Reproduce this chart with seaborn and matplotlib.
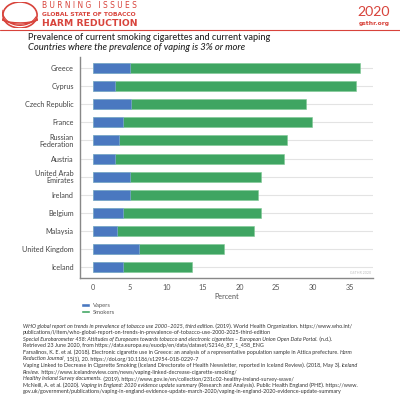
import matplotlib
matplotlib.use("Agg")
import matplotlib.pyplot as plt
import seaborn as sns
import pandas as pd
import numpy as np
from matplotlib.patches import Patch, Ellipse, Arc

countries = ["Greece", "Cyprus", "Czech Republic", "France", "Russian\nFederation", "Austria",
             "United Arab\nEmirates", "Ireland", "Belgium", "Malaysia", "United Kingdom", "Iceland"]
vapers = [5.0, 3.0, 5.2, 4.05, 3.55, 3.0, 5.0, 5.0, 4.05, 3.25, 6.25, 4.05]
smokers = [31.4, 32.9, 23.85, 25.85, 22.85, 23.0, 17.9, 17.5, 18.85, 18.65, 11.65, 9.5]
x_ticks = [0, 5, 10, 15, 20, 25, 30, 35]

BLUE = "#4a78c0"
GREEN = "#3fa562"
RED = "#d8433b"
FONT = "Lato"

sns.set_theme(style="white")
plt.rcParams["font.family"] = [FONT, "DejaVu Sans"]

df = pd.DataFrame({"country": countries, "vapers": vapers, "smokers": smokers})
df["total"] = df["vapers"] + df["smokers"]

fig = plt.figure(figsize=(4, 4), dpi=100)
ax = fig.add_axes([0.2, 0.305, 0.7325, 0.5525])

for i in range(len(countries)):
    ax.axhline(i, color="#e3e3e3", lw=0.8, zorder=0)

sns.barplot(data=df, y="country", x="total", color=GREEN, saturation=1, orient="h",
            width=0.55, ax=ax, zorder=2, edgecolor="#7fc995", linewidth=0.4)
sns.barplot(data=df, y="country", x="vapers", color=BLUE, saturation=1, orient="h",
            width=0.55, ax=ax, zorder=3, edgecolor="#8fb0e0", linewidth=0.4)

ax.set_xlim(-1.8, 38.2)
ax.set_ylim(11.58, -0.59)
ax.set_xticks(x_ticks)
ax.set_xticklabels([str(t) for t in x_ticks], fontsize=5.2, color="#555555")
ax.tick_params(axis="y", labelsize=5.2, labelcolor="#444444", length=3, width=0.6,
               color="#888888", pad=1.5)
ax.tick_params(axis="x", length=0, pad=4)
ax.set_ylabel("")
ax.set_xlabel("Percent", fontsize=5.2, color="#555555", labelpad=2)
for lab in ax.get_yticklabels():
    lab.set_linespacing(1.0)
for s in ["top", "right"]:
    ax.spines[s].set_visible(False)
ax.spines["left"].set_color("#888888")
ax.spines["left"].set_linewidth(1.0)
ax.spines["bottom"].set_color("#888888")
ax.spines["bottom"].set_linewidth(1.0)
ax.text(0.995, 0.015, "GSTHR 2020", transform=ax.transAxes, ha="right", va="bottom",
        fontsize=2.6, color="#bbbbbb")

handles = [Patch(facecolor=BLUE, label="Vapers"), Patch(facecolor=GREEN, label="Smokers")]
fig.legend(handles=handles, loc="upper left", bbox_to_anchor=(0.195, 0.25), frameon=False,
           fontsize=4.2, labelcolor="#555555", handlelength=1.6, handleheight=0.6,
           handletextpad=0.5, labelspacing=0.3, borderpad=0)

fig.canvas.draw()
renderer = fig.canvas.get_renderer()


def fit_text(x, y, s, width_px, size0=6, **kw):
    t = fig.text(x, y, s, fontsize=size0, **kw)
    w = t.get_window_extent(renderer=renderer).width
    t.set_fontsize(size0 * width_px / w)
    return t


# titles
fit_text(28 / 400, 1 - 38 / 400, "Prevalence of current smoking cigarettes and current vaping",
         245, color="#222222", va="center", fontweight="medium")
fit_text(28 / 400, 1 - 47.5 / 400, "Countries where the prevalence of vaping is 3% or more",
         218, color="#222222", va="center", style="italic", fontweight="medium")

# header
HF = ["DejaVu Sans"]
fig.add_artist(plt.Line2D([0.0, 1.0], [1 - 30 / 400, 1 - 30 / 400], color=RED, lw=0.8))
fit_text(42 / 400, 1 - 6 / 400, "B U R N I N G   I S S U E S", 96, color=RED, va="center",
         family=HF)
fit_text(42 / 400, 1 - 14.5 / 400, "GLOBAL STATE OF TOBACCO", 96, color=RED, va="center",
         fontweight="bold", family=HF)
fit_text(42 / 400, 1 - 23 / 400, "HARM REDUCTION", 96, color=RED, va="center",
         fontweight="bold", family=HF)
fit_text(390 / 400, 1 - 12 / 400, "2020", 33, color=RED, ha="right", va="center",
         fontweight="normal", family=["Lato"])
fit_text(390 / 400, 1 - 23 / 400, "gsthr.org", 31, color=RED, ha="right", va="center",
         fontweight="bold", family=HF)

lax = fig.add_axes([0.005, 0.93, 0.09, 0.065])
lax.set_xlim(0, 1)
lax.set_ylim(0, 1)
lax.axis("off")
lax.add_patch(Ellipse((0.5, 0.5), 0.95, 1.0, fill=False, ec=RED, lw=1.2))
for k, (w, h, t1, t2) in enumerate([(1.3, 0.6, 200, 350), (1.2, 0.9, 190, 340), (1.0, 1.2, 180, 330)]):
    lax.add_patch(Arc((0.5, 0.5 + 0.1 * k), w, h, theta1=t1, theta2=t2, ec=RED, lw=0.9))

refs = [
    [("WHO global report on trends in prevalence of tobacco use 2000\u20132025, third edition.", True),
     (" (2019). World Health Organization. https://www.who.int/", False)],
    [("publications/i/item/who-global-report-on-trends-in-prevalence-of-tobacco-use-2000-2025-third-edition", False)],
    [("Special Eurobarometer 458: Attitudes of Europeans towards tobacco and electronic cigarettes \u2013 European Union Open Data Portal.", True),
     (" (n.d.).", False)],
    [("Retrieved 23 June 2020, from https://data.europa.eu/euodp/en/data/dataset/S2146_87_1_458_ENG", False)],
    [("Farsalinos, K. E. et al. (2018). Electronic cigarette use in Greece: an analysis of a representative population sample in Attica prefecture. ", False),
     ("Harm", True)],
    [("Reduction Journal", True), (", 15(1), 20. https://doi.org/10.1186/s12954-018-0229-7", False)],
    [("Vaping Linked to Decrease in Cigarette Smoking (Iceland Directorate of Health Newsletter, reported in Iceland Review). (2018, May 3). ", False),
     ("Iceland", True)],
    [("Review.", True), (" https://www.icelandreview.com/news/vaping-linked-decrease-cigarette-smoking/", False)],
    [("Healthy Ireland Survey documents.", True),
     (" (2019). https://www.gov.ie/en/collection/231c02-healthy-ireland-survey-wave/", False)],
    [("McNeill, A. et al. (2020). ", False), ("Vaping in England: 2020 evidence update summary", True),
     (" (Research and Analysis). Public Health England (PHE). https://www.", False)],
    [("gov.uk/government/publications/vaping-in-england-evidence-update-march-2020/vaping-in-england-2020-evidence-update-summary", False)],
]

probe = fig.text(0, 0, refs[0][0][0] + refs[0][1][0], fontsize=4, style="normal")
pw = probe.get_window_extent(renderer=renderer).width
probe.remove()
ref_size = 4 * 338 / pw

y0 = 1 - 326 / 400
dy = 6.6 / 400
for i, line in enumerate(refs):
    x = 23 / 400
    for txt, ital in line:
        t = fig.text(x, y0 - i * dy, txt, fontsize=ref_size, color="#333333", va="center",
                     style="italic" if ital else "normal")
        bb = t.get_window_extent(renderer=renderer)
        x += bb.width / fig.bbox.width

fig.savefig("out.png", dpi=100)
